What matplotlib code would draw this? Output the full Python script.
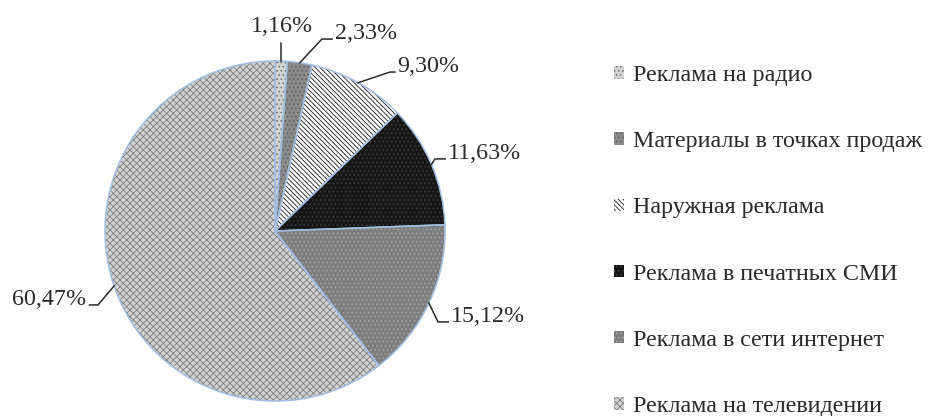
import matplotlib

matplotlib.use("Agg")
import matplotlib.pyplot as plt
import numpy as np

# data
categories = [
    "Реклама на радио",
    "Материалы в точках продаж",
    "Наружная реклама",
    "Реклама в печатных СМИ",
    "Реклама в сети интернет",
    "Реклама на телевидении",
]
shares = [1.16, 2.33, 9.30, 11.63, 15.12, 60.47]
pct_labels = ["1,16%", "2,33%", "9,30%", "11,63%", "15,12%", "60,47%"]

# styling per slice: fill, hatch, hatch colour
fills = ["#d2d2d2", "#8a8a8a", "#ffffff", "#161616", "#7e7e7e", "#d2d2d2"]
hatches = ["....", "....", "\\" * 7, "....", "....", "xxxxx"]
hatch_cols = ["#6e6e6e", "#5c5c5c", "#1a1a1a", "#3c3c3c", "#a6a6a6", "#808080"]
# leader line elbows (data units, pie radius = 1) and horizontal stub length
elbows = [(0.012, 1.106), (0.276, 1.129), (0.676, 0.935), (0.941, 0.424), (0.959, -0.535), (-1.041, -0.435)]
stubs = [0.0, 0.06, 0.03, 0.06, 0.06, -0.05]

FS = 17.3
INK = "#2a2a2a"
plt.rcParams["font.family"] = ["Liberation Serif", "DejaVu Serif"]
plt.rcParams["hatch.linewidth"] = 0.6

fig = plt.figure(figsize=(9.32, 4.16), dpi=100)
ax = fig.add_axes([0, 0, 560 / 932, 1])

# first pass: fills + hatches (hatch colour follows edge colour)
wedges, _ = ax.pie(shares, startangle=90, counterclock=False, colors=fills,
                   wedgeprops=dict(linewidth=0))
for w, h, hc in zip(wedges, hatches, hatch_cols):
    w.set_hatch(h)
    w.set_edgecolor(hc)
    w.set_linewidth(0)

# second pass: thin light-blue outlines
ax.pie(shares, startangle=90, counterclock=False, colors=["none"] * len(shares),
       wedgeprops=dict(linewidth=1.1, edgecolor="#a3bde2"))

ax.set_xlim(-275 / 170, (560 - 275) / 170)
ax.set_ylim(-185 / 170, (416 - 185) / 170)
ax.set_aspect("auto")
ax.axis("off")

for w, txt, (bx, by), st in zip(wedges, pct_labels, elbows, stubs):
    mid = np.deg2rad((w.theta1 + w.theta2) / 2)
    ex, ey = np.cos(mid), np.sin(mid)
    if st == 0:
        # thin slice at the top: straight vertical leader, label above it
        ax.plot([ex, ex], [ey, by], color=INK, lw=1.1)
        ax.text(ex + 0.005, by + 0.065, txt, ha="center", va="baseline", fontsize=FS, color=INK)
        continue
    ax.plot([ex, bx, bx + st], [ey, by, by], color=INK, lw=1.1, solid_joinstyle="miter")
    gap = 0.015 if st > 0 else -0.02
    ax.text(bx + st + gap, by, txt, ha="left" if st > 0 else "right", va="baseline",
            fontsize=FS, color=INK)

fig.legend(wedges, categories, loc="center left", bbox_to_anchor=(592 / 932, 1 - 241 / 416),
           frameon=False, fontsize=FS, labelspacing=1.88, handlelength=0.42,
           handleheight=0.42, handletextpad=0.4, labelcolor=INK)

fig.savefig("out.png", dpi=100)
